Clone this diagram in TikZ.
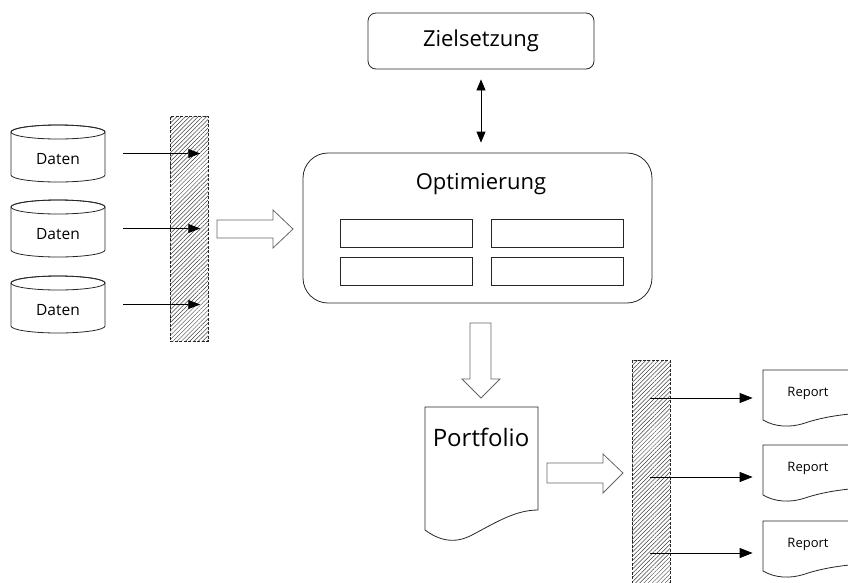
\documentclass[tikz,border=0pt]{standalone}
\usepackage{fontspec}
\setmainfont{Open Sans}
\usetikzlibrary{arrows.meta,patterns.meta,calc}
\begin{document}
\begin{tikzpicture}[x=1pt,y=-1pt,line width=0.8pt,
  outl/.style={draw=black!85},
  tipline/.style={draw=black,line width=0.8pt,-{Triangle[length=12pt,width=9pt]}},
  dbltip/.style={draw=black,line width=0.8pt,{Triangle[length=11pt,width=9pt]}-{Triangle[length=11pt,width=9pt]}},
  hollow/.style={draw=black!60,fill=white,line width=0.8pt},
  hatchbar/.style={draw=black!85,dash pattern=on 3pt off 1.5pt,pattern={Lines[angle=45,distance=3pt,line width=0.5pt]},pattern color=black!75,inner sep=0pt},
  inbox/.style={draw=black!85,minimum width=132pt,minimum height=28pt,inner sep=0pt},
  shapebox/.style={inner sep=0pt},
  bigtxt/.style={font=\fontsize{22}{26}\selectfont},
  smalltxt/.style={font=\fontsize{15.5}{18}\selectfont},
  reptxt/.style={font=\fontsize{13}{15}\selectfont}]
\useasboundingbox (0,0) rectangle (848,582);
\clip (0,0) rectangle (848,582);

% Zielsetzung
\node[outl,rounded corners=8pt,minimum width=226pt,minimum height=56pt,bigtxt] (ziel) at (481,41) {Zielsetzung};

% Optimierung
\node[outl,rounded corners=25pt,minimum width=349pt,minimum height=150pt,shapebox] (opt) at (477.5,228) {};
\node[bigtxt] (opttxt) at (481,184) {Optimierung};
\node[inbox] (b1) at (406,233) {};
\node[inbox] (b2) at (557,233) {};
\node[inbox] (b3) at (406,271) {};
\node[inbox] (b4) at (557,271) {};

\draw[dbltip,shorten <=10pt,shorten >=10pt] (ziel.south) -- (ziel.south |- opt.north);

% hatched bars
\node[hatchbar,minimum width=38pt,minimum height=225pt] (bar1) at (189,228.5) {};
\node[hatchbar,minimum width=38pt,minimum height=230pt] (bar2) at (651,475) {};

% Daten cylinders
\foreach \i/\t in {1/125,2/200,3/276}{
  \node[shapebox,minimum width=94pt,minimum height=57pt] (d\i) at (58,\t+28.5) {};
  \path[fill=white,outl] (11,\t+7) -- (11,\t+50) arc[start angle=180,end angle=0,x radius=47,y radius=7] -- (105,\t+7) arc[start angle=0,end angle=-180,x radius=47,y radius=7] -- cycle;
  \draw[outl] (58,\t+7) ellipse [x radius=47,y radius=7];
  \node[smalltxt] (dt\i) at (58,\t+34) {Daten};
  \coordinate (ds\i) at ($(d\i.east)+(18,0)$);
  \coordinate (de\i) at ($(d\i.east -| bar1.east)+(-8,0)$);
  \draw[tipline] (ds\i) -- (de\i);
}

% hollow arrow right (to Optimierung)
\draw[hollow] (217,220) -- (273,220) -- (273,210) -- (293,229) -- (273,248) -- (273,238) -- (217,238) -- cycle;

% hollow arrow down (to Portfolio)
\draw[hollow] (470,323) -- (491,323) -- (491,379) -- (500,379) -- (481,398) -- (462,379) -- (470,379) -- cycle;

% Portfolio document
\node[shapebox,minimum width=113pt,minimum height=123pt] (port) at (481.5,468.5) {};
\draw[outl,fill=white] (425,407) -- (425,530) .. controls (440,541) and (455,544) .. (472,535) .. controls (495,523) and (515,510) .. (538,510) -- (538,407) -- cycle;
\node[font=\fontsize{24}{28}\selectfont] (porttxt) at (481,437) {Portfolio};

% hollow arrow right (to reports bar)
\draw[hollow] (547,463) -- (603,463) -- (603,454) -- (623,473) -- (603,493) -- (603,483) -- (547,483) -- cycle;

% Reports
\foreach \i/\t/\a in {1/370/398,2/445/477,3/521/553}{
  \node[shapebox,minimum width=100pt,minimum height=50pt] (r\i) at (813,\t+25) {};
  \draw[outl,fill=white] (763,\t) -- (763,\t+50) .. controls (775,\t+57) and (790,\t+58) .. (805,\t+53) .. controls (820,\t+48) and (840,\t+44) .. (865,\t+43) -- (865,\t) -- cycle;
  \node[reptxt] (rt\i) at (808,\t+23) {Report};
  \coordinate (rs\i) at (650,\a);
  \coordinate (re\i) at ($(rs\i -| r\i.west)+(-10,0)$);
  \draw[tipline,-{Triangle[length=13pt,width=10pt]}] (rs\i) -- (re\i);
}
\end{tikzpicture}
\end{document}
